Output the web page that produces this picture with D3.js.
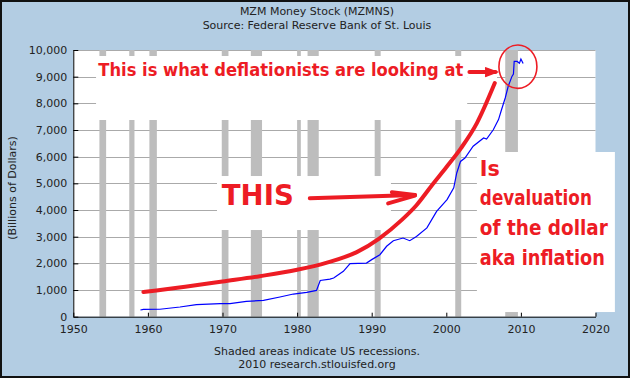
<!DOCTYPE html>
<html>
<head>
<meta charset="utf-8">
<title>MZM Money Stock</title>
<style>
  body { margin: 0; }
  svg { display: block; font-family: "DejaVu Sans", Verdana, sans-serif; }
</style>
</head>
<body>
<script src="https://d3js.org/d3.v7.min.js"></script>
<script>
// MZM money stock, billions of dollars
var mzmYears = [1959.0, 1959.4, 1961.6, 1964.3, 1966.5, 1969.7, 1971.0, 1973.2, 1975.5, 1977.7,
  1979.5, 1981.3, 1982.6, 1983.1, 1984.4, 1984.9, 1986.2, 1987.1, 1989.3, 1990.0,
  1991.1, 1992.0, 1992.9, 1994.2, 1995.1, 1996.0, 1997.4, 1998.7, 2000.1, 2001.0,
  2001.4, 2001.9, 2002.5, 2003.6, 2005.0, 2005.4, 2006.3, 2007.0, 2007.4, 2007.9,
  2008.3, 2008.8, 2009.0, 2009.1, 2009.5, 2009.8, 2010.0, 2010.3];
var mzmValues = [250, 277, 280, 363, 450, 490, 490, 575, 610, 740,
  850, 910, 985, 1360, 1410, 1450, 1700, 1990, 2010, 2140,
  2325, 2640, 2850, 2950, 2850, 3010, 3330, 3950, 4390, 4830,
  5390, 5820, 5950, 6390, 6700, 6660, 7010, 7390, 7760, 8200,
  8640, 9010, 9100, 9570, 9570, 9500, 9660, 9490];

// hand drawn red curve
var curveYears = [1959.4, 1965, 1970, 1975, 1980, 1984, 1988, 1991, 1994, 1996,
  1998, 2000, 2002, 2004.1, 2006.5];
var curveValues = [925, 1120, 1320, 1520, 1760, 2030, 2420, 2930, 3620, 4180,
  4900, 5600, 6330, 7260, 8760];

// US recessions
var recStart = [1953.5, 1957.5, 1960.2, 1969.9, 1973.8, 1980.0, 1981.4, 1990.4, 2001.2, 2007.9];
var recEnd = [1954.4, 1958.2, 1961.2, 1970.8, 1975.3, 1980.5, 1982.9, 1991.2, 2002.0, 2009.6];

var xTicks = [1950, 1960, 1970, 1980, 1990, 2000, 2010, 2020];
var yTicks = [0, 1000, 2000, 3000, 4000, 5000, 6000, 7000, 8000, 9000, 10000];

var width = 630, height = 378;
var plotL = 73.3, plotR = 595.5, plotT = 50, plotB = 316.7;
var red = '#ed1c24';

var x = d3.scaleLinear().domain([1950, 2020]).range([plotL, plotR]);
var y = d3.scaleLinear().domain([0, 10000]).range([plotB, plotT]);

var svg = d3.select('body').append('svg')
  .attr('width', width)
  .attr('height', height);

// background + border
svg.append('rect').attr('x', 1).attr('y', 1)
  .attr('width', width - 2).attr('height', height - 2)
  .attr('fill', '#b3cde3').attr('stroke', '#111').attr('stroke-width', 2);

// plot area
svg.append('rect').attr('x', plotL).attr('y', plotT)
  .attr('width', plotR - plotL).attr('height', plotB - plotT)
  .attr('fill', '#fff');

// grid
svg.append('g').selectAll('line').data(yTicks.filter(d => d > 0)).enter()
  .append('line')
  .attr('x1', plotL).attr('x2', plotR)
  .attr('y1', d => Math.round(y(d)) + 0.5).attr('y2', d => Math.round(y(d)) + 0.5)
  .attr('stroke', '#aaa');

// recession bars
svg.append('g').selectAll('rect').data(recStart).enter()
  .append('rect')
  .attr('x', d => x(d))
  .attr('width', (d, i) => x(recEnd[i]) - x(d))
  .attr('y', plotT)
  .attr('height', plotB - plotT)
  .attr('fill', '#bdbdbd');

// mzm series
var mzm = mzmYears.map((d, i) => [d, mzmValues[i]]);
svg.append('path').datum(mzm)
  .attr('d', d3.line().x(d => x(d[0])).y(d => y(d[1])))
  .attr('fill', 'none').attr('stroke', '#0000ff').attr('stroke-width', 1.2);

// axes
var yAxis = svg.append('g').attr('transform', `translate(${plotL},0)`)
  .call(d3.axisLeft(y).tickValues(yTicks).tickFormat(d3.format(','))
    .tickSizeInner(-5).tickSizeOuter(0).tickPadding(6));
var xAxis = svg.append('g').attr('transform', `translate(0,${plotB})`)
  .call(d3.axisBottom(x).tickValues(xTicks).tickFormat(d3.format('d'))
    .tickSizeInner(-4).tickSizeOuter(0).tickPadding(9));
[yAxis, xAxis].forEach(function (a) {
  a.selectAll('text').attr('font-size', 11).attr('fill', '#222')
    .attr('font-family', '"DejaVu Sans", Verdana, sans-serif');
  a.select('.domain').attr('stroke', '#000');
  a.selectAll('.tick line').attr('stroke', '#000');
});

// titles
var titles = svg.append('g').attr('font-size', 11).attr('fill', '#222').attr('text-anchor', 'middle');
titles.append('text').attr('x', 317).attr('y', 15).text('MZM Money Stock (MZMNS)');
titles.append('text').attr('x', 317).attr('y', 28.5).text('Source: Federal Reserve Bank of St. Louis');
titles.append('text').attr('x', 317).attr('y', 355).text('Shaded areas indicate US recessions.');
titles.append('text').attr('x', 317).attr('y', 368).text('2010 research.stlouisfed.org');
titles.append('text').attr('transform', 'translate(16,188) rotate(-90)').text('(Billions of Dollars)');

// pasted annotation boxes (white backgrounds), in data units
var boxes = [
  [1953.05, 2002.8, 9775, 7375],
  [2002.8, 2006.8, 9775, 8300],
  [1969.26, 1992.58, 5275, 3250],
  [2004.1, 2022.6, 6175, 175]
];
svg.append('g').selectAll('rect').data(boxes).enter()
  .append('rect')
  .attr('x', d => x(d[0])).attr('width', d => x(d[1]) - x(d[0]))
  .attr('y', d => y(d[2])).attr('height', d => y(d[3]) - y(d[2]))
  .attr('fill', '#fff');

// red hand drawn curve
var curve = curveYears.map((d, i) => [d, curveValues[i]]);
svg.append('path').datum(curve)
  .attr('d', d3.line().curve(d3.curveMonotoneX).x(d => x(d[0])).y(d => y(d[1])))
  .attr('fill', 'none').attr('stroke', red).attr('stroke-width', 4).attr('stroke-linecap', 'round');

var ann = svg.append('g').attr('fill', red).attr('font-weight', 'bold')
  .attr('font-family', '"Comic Sans MS", "DejaVu Sans", sans-serif');
function label(txt, yr, val, size, w) {
  ann.append('text').attr('x', x(yr)).attr('y', y(val))
    .attr('font-size', size)
    .attr('textLength', w).attr('lengthAdjust', 'spacingAndGlyphs')
    .text(txt);
}
label('This is what deflationists are looking at', 1953.35, 9025, 18, 365);
label('THIS', 1969.9, 4190, 28, 72);
label('Is', 2004.5, 5275, 22, 20);
label('devaluation', 2004.5, 4190, 22, 112);
label('of the dollar', 2004.5, 3065, 21, 128);
label('aka inflation', 2004.5, 1940, 21, 125);

// arrows
var arrows = [
  [[1981.7, 4440], [1995.8, 4560]],
  [[1992.7, 4665], [1995.8, 4560]],
  [[1992.2, 4250], [1995.8, 4540]],
  [[2003.1, 9175], [2006.6, 9175]]
];
svg.append('g').selectAll('line').data(arrows).enter()
  .append('line')
  .attr('x1', d => x(d[0][0])).attr('y1', d => y(d[0][1]))
  .attr('x2', d => x(d[1][0])).attr('y2', d => y(d[1][1]))
  .attr('stroke', red).attr('stroke-width', 4).attr('stroke-linecap', 'round');
// head of top arrow
var head = [[2005.2, 9340], [2006.8, 9175], [2005.2, 9000]];
svg.append('path').datum(head)
  .attr('d', d3.line().x(d => x(d[0])).y(d => y(d[1])))
  .attr('fill', red).attr('stroke', red).attr('stroke-width', 1.5);

// circle round the peak
svg.append('ellipse')
  .attr('cx', x(2009.6)).attr('cy', y(9375))
  .attr('rx', 19).attr('ry', 21.7)
  .attr('fill', 'none').attr('stroke', red).attr('stroke-width', 1.6);
</script>
</body>
</html>
